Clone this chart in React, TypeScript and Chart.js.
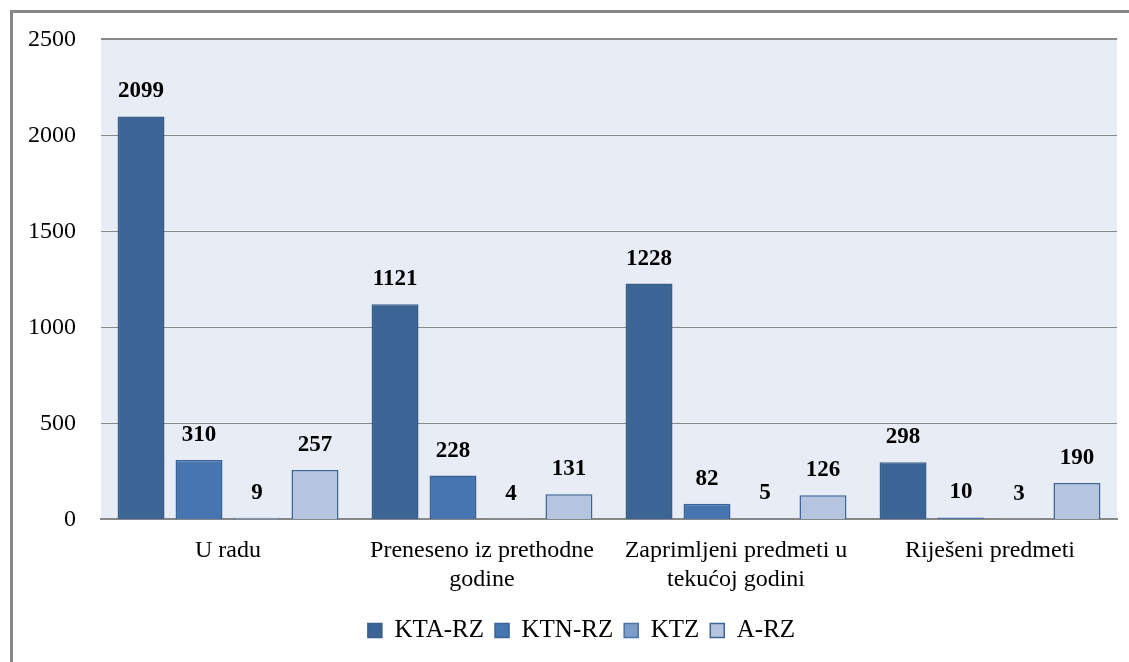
import React, { useEffect, useRef } from "react";
import { Chart, registerables } from "chart.js";

Chart.register(...registerables);

const categories: (string | string[])[] = [
  "U radu",
  ["Preneseno iz prethodne", "godine"],
  ["Zaprimljeni predmeti u", "tekućoj godini"],
  "Riješeni predmeti",
];

const seriesNames = ["KTA-RZ", "KTN-RZ", "KTZ", "A-RZ"];
const ktaRz = [2099, 1121, 1228, 298];
const ktnRz = [310, 228, 82, 10];
const ktz = [9, 4, 5, 3];
const aRz = [257, 131, 126, 190];

const yTicks = [0, 500, 1000, 1500, 2000, 2500];

const fills = ["#3C6595", "#4775AF", "#7F9DC9", "#B5C4DF"];
const borders = ["#385E8C", "#3A6199", "#4A72A8", "#3C6496"];

const FONT = "'Liberation Serif', 'DejaVu Serif', serif";

const plotBg = {
  id: "plotBg",
  beforeDraw(chart: any) {
    const { ctx, chartArea } = chart;
    ctx.save();
    ctx.fillStyle = "#E8ECF4";
    ctx.fillRect(chartArea.left, chartArea.top, chartArea.right - chartArea.left, chartArea.bottom - chartArea.top);
    ctx.restore();
  },
};

// shift the legend block right / up, as in the reference
const legendShift = {
  id: "legendShift",
  afterLayout(chart: any) {
    const lg = chart.legend;
    if (lg) {
      lg.left += 46;
      lg.top -= 4;
      lg.bottom -= 4;
    }
  },
};

const dataLabels = {
  id: "dataLabels",
  afterDatasetsDraw(chart: any) {
    const { ctx } = chart;
    ctx.save();
    ctx.font = `bold 23px ${FONT}`;
    ctx.fillStyle = "#000";
    ctx.textAlign = "center";
    ctx.textBaseline = "middle";
    chart.data.datasets.forEach((ds: any, i: number) => {
      const meta = chart.getDatasetMeta(i);
      meta.data.forEach((el: any, j: number) => {
        ctx.fillText(String(ds.data[j]), el.x, el.y - 25);
      });
    });
    ctx.restore();
  },
};

export default function App() {
  const ref = useRef<HTMLCanvasElement>(null);
  useEffect(() => {
    if (!ref.current) return;
    const seriesData = [ktaRz, ktnRz, ktz, aRz];
    const chart = new Chart(ref.current, {
      type: "bar",
      data: {
        labels: categories,
        datasets: seriesNames.map((name, i) => ({
          label: name,
          data: seriesData[i],
          backgroundColor: fills[i],
          borderColor: borders[i],
          borderWidth: 1.5,
          categoryPercentage: 0.913,
          barPercentage: 0.81,
        })),
      },
      options: {
        animation: false,
        responsive: false,
        maintainAspectRatio: false,
        layout: { padding: { top: 35, right: 12, left: 0, bottom: 5 } },
        plugins: {
          tooltip: { enabled: false },
          legend: {
            position: "bottom",
            labels: {
              boxWidth: 14,
              boxHeight: 14,
              padding: 11,
              color: "#000",
              font: { family: FONT, size: 25 },
            },
          },
        },
        scales: {
          x: {
            grid: { display: false, drawTicks: false },
            border: { display: true, color: "#888", width: 2 },
            ticks: {
              color: "#000",
              font: { family: FONT, size: 24, lineHeight: 1.2 },
              padding: 17,
              maxRotation: 0,
              autoSkip: false,
            },
          },
          y: {
            min: 0,
            max: 2500,
            afterBuildTicks(scale: any) {
              scale.ticks = yTicks.map((v) => ({ value: v }));
            },
            afterFit(scale: any) {
              scale.width = 101;
            },
            grid: { color: "#888", lineWidth: (c: any) => (c.tick && c.tick.value === 2500 ? 2 : 1), drawTicks: false },
            border: { display: false },
            ticks: {
              color: "#000",
              font: { family: FONT, size: 24 },
              padding: 25,
              callback: (v: any) => String(v),
            },
          },
        },
      },
      plugins: [plotBg, legendShift, dataLabels],
    });
    return () => chart.destroy();
  }, []);
  return (
    <div style={{ position: "fixed", left: 0, top: 0, width: 1129, height: 662, background: "#fff" }}>
      <div
        style={{
          position: "absolute",
          left: 10,
          top: 10,
          width: 1200,
          height: 700,
          borderLeft: "3px solid #888",
          borderTop: "3px solid #888",
        }}
      />
      <canvas ref={ref} width={1129} height={662} style={{ position: "absolute", left: 0, top: 0 }} />
    </div>
  );
}
